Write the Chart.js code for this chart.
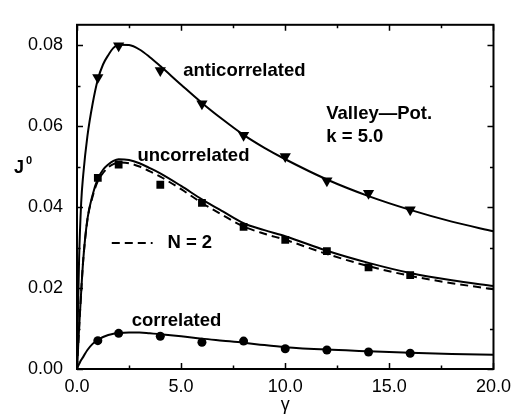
<!DOCTYPE html>
<html>
<head>
<meta charset="utf-8">
<script src="https://cdn.jsdelivr.net/npm/chart.js@4.4.1/dist/chart.umd.min.js"></script>
<style>
  html, body { margin: 0; padding: 0; background: #fff; }
  #wrap { width: 518px; height: 420px; }
</style>
</head>
<body>
<div id="wrap"><canvas id="chart" width="518" height="420"></canvas></div>
<script>
// smooth curves
const curveGamma = [0, 0.05, 0.1, 0.2, 0.3, 0.5, 0.75, 1, 1.25, 1.5, 1.75, 2, 2.5, 3, 3.5, 4, 5, 6, 7, 8, 9, 10, 12, 14, 16, 18, 20];
const antiCurve = [0, 0.015, 0.027, 0.041, 0.048, 0.0575, 0.0655, 0.0715, 0.0752, 0.0775, 0.0793, 0.0801, 0.0800, 0.0789, 0.0770, 0.0748, 0.0702, 0.0657, 0.0616, 0.0578, 0.0546, 0.0518, 0.0468, 0.0427, 0.0393, 0.0364, 0.0340];
const uncorrCurve = [0, 0.005, 0.010, 0.019, 0.027, 0.037, 0.0430, 0.0470, 0.0492, 0.0505, 0.0514, 0.0518, 0.0516, 0.0508, 0.0496, 0.0483, 0.0452, 0.0419, 0.0389, 0.0360, 0.0343, 0.0328, 0.0292, 0.0262, 0.0237, 0.0219, 0.0205];
const n2Curve = [0, 0.005, 0.010, 0.019, 0.027, 0.0368, 0.0426, 0.0464, 0.0484, 0.0498, 0.0506, 0.0510, 0.0508, 0.0500, 0.0488, 0.0475, 0.0444, 0.0410, 0.0380, 0.0352, 0.0334, 0.0319, 0.0284, 0.0254, 0.0230, 0.0212, 0.0197];
const corrCurve = [0, 0.0007, 0.0012, 0.0022, 0.0030, 0.0047, 0.0062, 0.0072, 0.0079, 0.0084, 0.0087, 0.0089, 0.0090, 0.0090, 0.0088, 0.0086, 0.0081, 0.0075, 0.0070, 0.0065, 0.0059, 0.0054, 0.0048, 0.0044, 0.0040, 0.0037, 0.0035];

// simulation points
const markerGamma = [1, 2, 4, 6, 8, 10, 12, 14, 16];
const antiPts = [0.0720, 0.0798, 0.0737, 0.0655, 0.0577, 0.0525, 0.0465, 0.0434, 0.0393];
const uncorrPts = [0.0472, 0.0505, 0.0455, 0.0410, 0.0351, 0.0319, 0.0291, 0.0251, 0.0232];
const corrPts = [0.0070, 0.0088, 0.0081, 0.0066, 0.0069, 0.0050, 0.0047, 0.0042, 0.0039];

// axis ticks
const xTicks = [0, 2.5, 5, 7.5, 10, 12.5, 15, 17.5, 20];
const xLabelTicks = [0, 5, 10, 15, 20];
const yTicks = [0, 0.01, 0.02, 0.03, 0.04, 0.05, 0.06, 0.07, 0.08];
const yLabelTicks = [0, 0.02, 0.04, 0.06, 0.08];

// text labels, placed in data coordinates
const labels = [
    { text: 'anticorrelated', x: 5.1, y: 0.0737 },
    { text: 'uncorrelated', x: 2.9, y: 0.0525 },
    { text: 'correlated', x: 2.63, y: 0.0120 },
    { text: 'Valley\u2014Pot.', x: 11.97, y: 0.0629 },
    { text: 'k = 5.0', x: 11.97, y: 0.0573 },
    { text: 'N = 2', x: 4.34, y: 0.0311 }
];
const keyDash = { x0: 1.67, x1: 3.63, y: 0.0311 };

const FONT = '"Liberation Sans", Arial, Helvetica, sans-serif';

const toXY = (xs, ys) => xs.map((x, i) => ({ x: x, y: ys[i] }));

const curve = (data, dash) => ({
    data: data,
    showLine: true,
    borderColor: '#000',
    borderWidth: 2,
    borderDash: dash || [],
    pointRadius: 0,
    cubicInterpolationMode: 'monotone',
    fill: false
});

const marks = (data, style, r, rot) => ({
    data: data,
    showLine: false,
    pointStyle: style,
    pointRadius: r,
    rotation: rot || 0,
    backgroundColor: '#000',
    borderColor: '#000',
    borderWidth: 0
});

const framePlugin = {
    id: 'frame',
    afterDraw(chart) {
        const { ctx, chartArea: { left, right, top, bottom }, scales: { x, y } } = chart;
        ctx.save();
        ctx.strokeStyle = '#000';
        ctx.lineWidth = 2;
        ctx.strokeRect(left, top, right - left, bottom - top);

        ctx.lineWidth = 1.5;
        ctx.beginPath();
        xTicks.forEach(v => {
            const px = Math.round(x.getPixelForValue(v)) + 0.5;
            const len = xLabelTicks.includes(v) ? 6 : 3.5;
            ctx.moveTo(px, bottom); ctx.lineTo(px, bottom - len);
            ctx.moveTo(px, top); ctx.lineTo(px, top + len);
        });
        yTicks.forEach(v => {
            const py = Math.round(y.getPixelForValue(v)) + 0.5;
            const major = yLabelTicks.some(t => Math.abs(t - v) < 1e-9);
            const len = major ? 6 : 3.5;
            ctx.moveTo(left, py); ctx.lineTo(left + len, py);
            ctx.moveTo(right, py); ctx.lineTo(right - len, py);
        });
        ctx.stroke();

        // text labels
        ctx.fillStyle = '#000';
        ctx.font = 'bold 18.5px ' + FONT;
        ctx.textAlign = 'left';
        ctx.textBaseline = 'middle';
        labels.forEach(l => {
            ctx.fillText(l.text, x.getPixelForValue(l.x), y.getPixelForValue(l.y));
        });

        // dashed key for N = 2
        ctx.lineWidth = 2;
        ctx.setLineDash([8, 5]);
        ctx.beginPath();
        ctx.moveTo(x.getPixelForValue(keyDash.x0), y.getPixelForValue(keyDash.y));
        ctx.lineTo(x.getPixelForValue(keyDash.x1), y.getPixelForValue(keyDash.y));
        ctx.stroke();
        ctx.setLineDash([]);

        // axis titles
        ctx.font = 'bold 18px ' + FONT;
        ctx.fillText('J', 14, 168);
        ctx.font = 'bold 11px ' + FONT;
        ctx.fillText('0', 26, 161);
        ctx.font = '18px ' + FONT;
        ctx.textAlign = 'center';
        ctx.fillText('\u03b3', (left + right) / 2, 405);
        ctx.restore();
    }
};

const chart = new Chart(document.getElementById('chart').getContext('2d'), {
    type: 'scatter',
    data: {
        datasets: [
            curve(toXY(curveGamma, antiCurve)),
            curve(toXY(curveGamma, uncorrCurve)),
            curve(toXY(curveGamma, n2Curve), [8, 5]),
            curve(toXY(curveGamma, corrCurve)),
            marks(toXY(markerGamma, antiPts), 'triangle', 6.5, 180),
            marks(toXY(markerGamma, uncorrPts), 'rect', 5.5),
            marks(toXY(markerGamma, corrPts), 'circle', 4.5)
        ]
    },
    options: {
        responsive: false,
        animation: false,
        layout: { padding: { top: 16, right: 22, left: 0, bottom: 0 } },
        plugins: {
            legend: { display: false },
            tooltip: { enabled: false }
        },
        scales: {
            x: {
                type: 'linear',
                min: 0,
                max: 20,
                grid: { display: false, drawTicks: false },
                border: { display: false },
                afterFit: (s) => { s.height = 51; },
                afterBuildTicks: (s) => { s.ticks = xLabelTicks.map(v => ({ value: v })); },
                ticks: {
                    padding: 7,
                    color: '#000',
                    font: { family: FONT, size: 18 },
                    callback: (v) => Number(v).toFixed(1)
                }
            },
            y: {
                type: 'linear',
                min: 0,
                max: 0.085,
                grid: { display: false, drawTicks: false },
                border: { display: false },
                afterFit: (s) => { s.width = 77; },
                afterBuildTicks: (s) => { s.ticks = yLabelTicks.map(v => ({ value: v })); },
                ticks: {
                    padding: 14,
                    color: '#000',
                    font: { family: FONT, size: 18 },
                    callback: (v) => Number(v).toFixed(2)
                }
            }
        }
    },
    plugins: [framePlugin]
});
</script>
</body>
</html>
